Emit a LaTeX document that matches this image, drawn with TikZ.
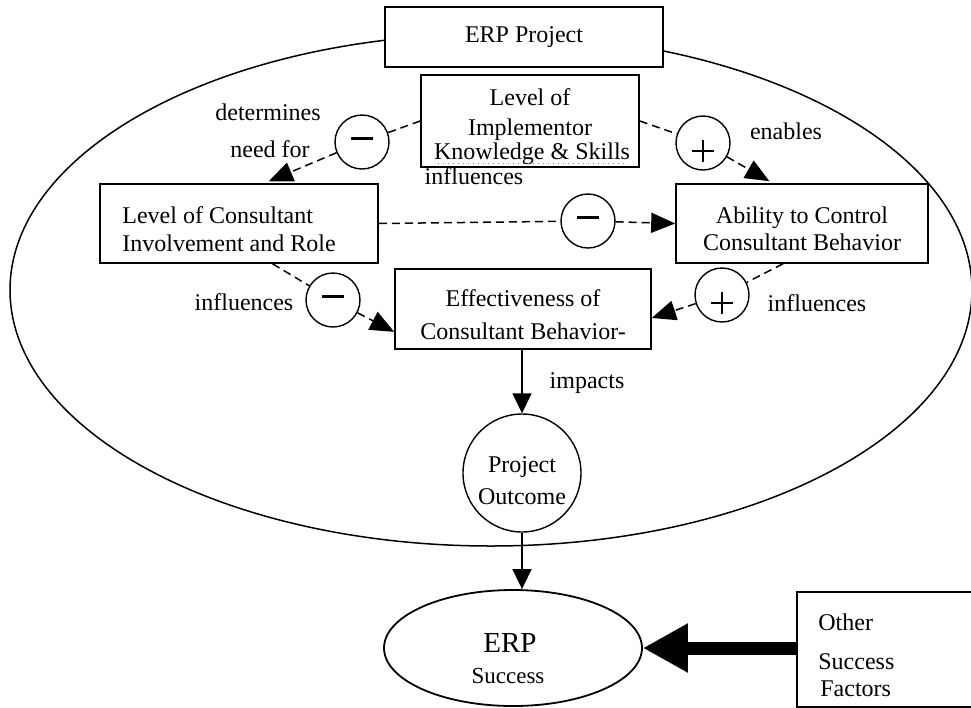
\documentclass[tikz,border=0pt]{standalone}
\usepackage{fontspec}
\setmainfont{Liberation Serif}
\usetikzlibrary{arrows.meta,calc,shapes.geometric}
\begin{document}
\begin{tikzpicture}[x=0.5pt,y=-0.5pt,
  every node/.style={font=\fontsize{12}{14}\selectfont},
  box/.style={draw, line width=0.8pt, fill=white, inner sep=0pt},
  txt/.style={inner sep=0pt, text height=8.5pt, text depth=2.5pt},
  sgn/.style={circle, draw, line width=0.7pt, minimum size=27pt, inner sep=0pt, fill=white},
  negsign/.style={sgn, path picture={\draw[line width=1.5pt]
      ([shift={(-5.5pt,2pt)}]path picture bounding box.center) --
      ([shift={(5.5pt,2pt)}]path picture bounding box.center);}},
  possign/.style={sgn, path picture={\draw[line width=1pt]
      ([shift={(-5.5pt,-4pt)}]path picture bounding box.center) --
      ([shift={(5.5pt,-4pt)}]path picture bounding box.center)
      ([shift={(0pt,1.5pt)}]path picture bounding box.center) --
      ([shift={(0pt,-9.5pt)}]path picture bounding box.center);}},
  dsh/.style={dash pattern=on 4pt off 2.5pt, line width=0.75pt},
  arr/.style={-{Triangle[length=12pt,width=10pt]}},
  solarr/.style={line width=0.8pt, -{Triangle[length=10pt,width=9.5pt]}},
  bigarr/.style={line width=6.5pt, -{Triangle[length=22.5pt,width=23pt]}},
  bigcurve/.style={line width=0.75pt}
]
\useasboundingbox (0,0) rectangle (971,708);
\clip (0,0) rectangle (971,708);

% surrounding project boundary
\draw[bigcurve] (491,290) ellipse [x radius=481, y radius=256];

% boxes
\node[box, minimum width=139pt, minimum height=30pt] (proj) at (524,37) {ERP Project};

\node[box, minimum width=109pt, minimum height=46pt] (impl) at (530,121) {};
\node[txt] (implA) at (530,99) {Level of};
\node[txt] (implB) at (530,129) {Implementor};
\node[txt] (implC) at (532,153) {Knowledge \& Skills};
\draw[dotted, gray, line width=0.5pt] (438,163) -- (627,163);

\node[box, minimum width=139pt, minimum height=39.5pt] (cons) at (239,223.5) {};
\node[txt, anchor=west] (consA) at (122,217) {Level of Consultant};
\node[txt, anchor=west] (consB) at (122,245) {Involvement and Role};

\node[box, minimum width=126pt, minimum height=39.5pt] (abil) at (802,223.5) {};
\node[txt] (abilA) at (802,217) {Ability to Control};
\node[txt] (abilB) at (802,244) {Consultant Behavior};

\node[box, minimum width=128pt, minimum height=40pt] (eff) at (523,309) {};
\node[txt] (effA) at (523,300) {Effectiveness of};
\node[txt] (effB) at (523,333) {Consultant Behavior-};

\node[circle, draw, line width=0.7pt, minimum size=59pt, inner sep=0pt, fill=white] (outc) at (522,473) {};
\node[txt] (outcA) at (522,466) {Project};
\node[txt] (outcB) at (522,498) {Outcome};

\node[ellipse, draw, line width=0.9pt, minimum width=129pt, minimum height=58pt, inner sep=0pt] (succ) at (513,648) {};
\node[txt, font=\fontsize{14.5}{16}\selectfont] (succA) at (510,646) {ERP};
\node[txt, font=\fontsize{11.5}{13}\selectfont] (succB) at (508,677) {Success};

\node[box, minimum width=102pt, minimum height=57.5pt] (other) at (899,649.5) {};
\node[txt, anchor=west] (otherA) at (818,624) {Other};
\node[txt, anchor=west] (otherB) at (818,663) {Success};
\node[txt, anchor=west] (otherC) at (820,690) {Factors};

% sign circles
\node[negsign] (m1) at (362,142) {};
\node[possign] (p1) at (703,143) {};
\node[negsign] (m3) at (588,221) {};
\node[negsign] (m2) at (333,300) {};
\node[possign] (p2) at (722,295) {};

% labels
\node[txt] (det) at (268,114) {determines};
\node[txt] (need) at (270,151) {need for};
\node[txt] (en) at (786,133) {enables};
\node[txt] (inf1) at (474,178) {influences};
\node[txt] (inf2) at (244,304) {influences};
\node[txt] (inf3) at (817,305) {influences};
\node[txt] (imp) at (587,382) {impacts};

% connectors
\draw[dsh] (impl.west) -- (m1);
\draw[dsh, arr, shorten >=2.5pt] (m1) -- ($(cons.north west)!0.59!(cons.north east)$);
\draw[dsh] (impl.east) -- (p1);
\draw[dsh, arr, shorten >=2pt] (p1) -- ($(abil.north west)!0.385!(abil.north east)$);
\draw[dsh] (cons.east) -- (m3);
\draw[dsh, arr] (m3) -- (abil.west);
\draw[dsh] ($(cons.south west)!0.62!(cons.south east)$) -- (m2);
\draw[dsh, arr] (m2) -- ($(eff.south west)!0.22!(eff.north west)$);
\draw[dsh] ($(abil.south west)!0.425!(abil.south east)$) -- (p2);
\draw[dsh, arr] (p2) -- ($(eff.north east)!0.61!(eff.south east)$);
\draw[solarr] (eff.south -| outc.north) -- (outc.north);
\draw[solarr] (outc.south) -- (outc.south |- succ.north);
\draw[bigarr] (other.west |- succ.east) -- (succ.east);
\end{tikzpicture}
\end{document}
